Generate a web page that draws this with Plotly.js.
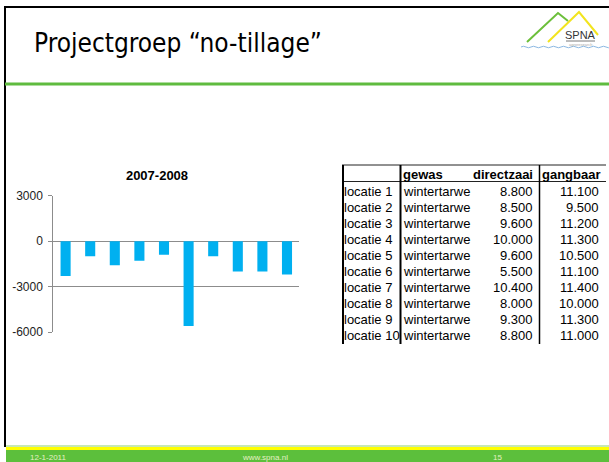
<!DOCTYPE html>
<html>
<head>
<meta charset="utf-8">
<script src="https://cdn.plot.ly/plotly-3.0.1.min.js"></script>
<style>
  html, body { margin: 0; padding: 0; background: #ffffff; }
  #chart { width: 609px; height: 462px; }
</style>
</head>
<body>
<div id="chart"></div>
<script>
// ---------- data ----------
const slideTitle = 'Projectgroep \u201Cno-tillage\u201D';
const chartTitle = '2007-2008';
const locaties = ['locatie 1', 'locatie 2', 'locatie 3', 'locatie 4', 'locatie 5',
                  'locatie 6', 'locatie 7', 'locatie 8', 'locatie 9', 'locatie 10'];
const gewas = ['wintertarwe', 'wintertarwe', 'wintertarwe', 'wintertarwe', 'wintertarwe',
               'wintertarwe', 'wintertarwe', 'wintertarwe', 'wintertarwe', 'wintertarwe'];
const directzaai = [8800, 8500, 9600, 10000, 9600, 5500, 10400, 8000, 9300, 8800];
const gangbaar = [11100, 9500, 11200, 11300, 10500, 11100, 11400, 10000, 11300, 11000];
const verschil = [-2300, -1000, -1600, -1300, -900, -5600, -1000, -2000, -2000, -2200];
const yTicks = [-6000, -3000, 0, 3000];
const kolommen = ['', 'gewas', 'directzaai', 'gangbaar'];
const footerDatum = '12-1-2011';
const footerUrl = 'www.spna.nl';
const footerPagina = '15';
const logoTekst = 'SPNA';
const logoSub = 'agroresearch';

// ---------- helpers (pixel -> paper) ----------
const W = 609, H = 462;
const px = x => x / W;
const py = y => 1 - y / H;
const SANS = 'Liberation Sans, Arial, sans-serif';
const NARROW = 'DejaVu Sans Condensed, sans-serif';

function nl(n) { // Dutch thousands separator
  const s = String(Math.round(n));
  return s.replace(/\B(?=(\d{3})+(?!\d))/g, '.');
}
function line(x0, y0, x1, y1, color, width) {
  return {type: 'line', xref: 'paper', yref: 'paper', layer: 'above',
          x0: px(x0), y0: py(y0), x1: px(x1), y1: py(y1), line: {color: color, width: width}};
}
function rect(x0, y0, x1, y1, color) {
  return {type: 'rect', xref: 'paper', yref: 'paper', layer: 'below',
          x0: px(x0), y0: py(y0), x1: px(x1), y1: py(y1), fillcolor: color, line: {width: 0}};
}
function pathShape(pts, color, width) {
  let d = 'M ' + pts.map(p => px(p[0]) + ',' + py(p[1])).join(' L ');
  return {type: 'path', xref: 'paper', yref: 'paper', path: d, line: {color: color, width: width}};
}
function ann(text, x, y, xanchor, size, color, family) {
  return {text: text, x: px(x), y: py(y), xref: 'paper', yref: 'paper', xanchor: xanchor,
          yanchor: 'middle', showarrow: false, borderpad: 0,
          font: {family: family || SANS, size: size, color: color || '#000'}};
}

// ---------- shapes ----------
const shapes = [];
// slide frame
shapes.push(line(4, 7, 609, 7, '#000', 2));
shapes.push(line(5, 6, 5, 447, '#000', 2));
// green rule under title
shapes.push(line(5, 84, 609, 84, '#5fbb3f', 3));
// footer bands
shapes.push(line(6, 446, 609, 446, '#8fd06a', 1));
shapes.push(rect(6, 447, 609, 450, '#ffff00'));
shapes.push(rect(6, 450, 609, 462, '#5cbf3c'));
// logo
shapes.push(pathShape([[527, 42], [558, 13], [568, 21]], '#6cbf3a', 2));
shapes.push(pathShape([[548, 42], [579, 12], [598, 35]], '#f2e41e', 2));
shapes.push(line(566, 41, 595, 41, '#555', 0.8));
(function () {
  let d = 'M ' + px(521) + ',' + py(47);
  for (let x = 521; x < 609; x += 10) {
    d += ' Q ' + px(x + 2.5) + ',' + py(45.5) + ' ' + px(x + 5) + ',' + py(47);
    d += ' Q ' + px(x + 7.5) + ',' + py(48.5) + ' ' + px(x + 10) + ',' + py(47);
  }
  shapes.push({type: 'path', xref: 'paper', yref: 'paper', path: d, line: {color: '#8bb8e2', width: 1}});
})();
// table lines
const tTop = 165, tHead = 181.5, tBot = 344;
shapes.push(line(342, tTop, 606, tTop, '#222', 1));
shapes.push(line(342, tHead, 606, tHead, '#222', 1));
shapes.push(line(343, tTop, 343, tBot, '#000', 2));
shapes.push(line(400.5, tTop, 400.5, tBot, '#000', 2));
shapes.push(line(539.5, tTop, 539.5, tBot, '#000', 1.5));

// ---------- annotations ----------
const annotations = [];
annotations.push(ann(slideTitle, 33, 43, 'left', 26, '#000', NARROW));
annotations.push(ann(logoTekst, 580.5, 35.5, 'center', 11, '#333'));
annotations.push(ann(logoSub, 580.5, 44, 'center', 4, '#aaa'));
annotations.push(ann(footerDatum, 48, 457, 'center', 8, '#e4efc4'));
annotations.push(ann(footerUrl, 265, 457, 'center', 8, '#e4efc4'));
annotations.push(ann(footerPagina, 497, 457, 'center', 8, '#e4efc4'));

// table header
const headY = 174;
annotations.push(ann('<b>' + kolommen[1] + '</b>', 401.5, headY, 'left', 13, '#000'));
annotations.push(ann('<b>' + kolommen[2] + '</b>', 472, headY, 'left', 13, '#000'));
annotations.push(ann('<b>' + kolommen[3] + '</b>', 541, headY, 'left', 13, '#000'));
// table rows
const rowY0 = 191.7, rowStep = 16;
for (let i = 0; i < locaties.length; i++) {
  const y = rowY0 + i * rowStep;
  annotations.push(ann(locaties[i], 343, y, 'left', 13, '#000'));
  annotations.push(ann(gewas[i], 401.5, y, 'left', 13, '#000'));
  annotations.push(ann(nl(directzaai[i]), 533.5, y, 'right', 13, '#000'));
  annotations.push(ann(nl(gangbaar[i]), 600, y, 'right', 13, '#000'));
}

// ---------- chart ----------
const traces = [{
  type: 'bar',
  x: locaties,
  y: verschil,
  marker: {color: '#00b0f0', line: {width: 0}},
  hoverinfo: 'none'
}];

const layout = {
  width: W, height: H,
  margin: {l: 0, r: 0, t: 0, b: 0},
  paper_bgcolor: '#ffffff',
  plot_bgcolor: 'rgba(0,0,0,0)',
  showlegend: false,
  bargap: 0.59,
  title: {
    text: '<b>' + chartTitle + '</b>',
    x: px(157), y: py(175), xref: 'paper', yref: 'paper',
    xanchor: 'center', yanchor: 'middle',
    font: {family: SANS, size: 13, color: '#000'}
  },
  xaxis: {
    domain: [px(53.3), px(299.3)],
    range: [-0.5, locaties.length - 0.5],
    showticklabels: false, ticks: '', showgrid: false, zeroline: false, showline: false,
    fixedrange: true
  },
  yaxis: {
    domain: [py(332), py(195.7)],
    range: [yTicks[0], yTicks[yTicks.length - 1]],
    tickmode: 'array', tickvals: yTicks, ticktext: yTicks.map(String),
    ticks: 'outside', ticklen: 4, tickcolor: '#8c8c8c', tickwidth: 1,
    ticklabelstandoff: 3,
    showgrid: true, gridcolor: '#8c8c8c', gridwidth: 1,
    zeroline: true, zerolinecolor: '#8c8c8c', zerolinewidth: 1,
    showline: true, linecolor: '#8c8c8c', linewidth: 1,
    tickfont: {family: SANS, size: 12, color: '#222'},
    fixedrange: true
  },
  shapes: shapes,
  annotations: annotations
};

Plotly.newPlot('chart', traces, layout, {displayModeBar: false, staticPlot: true});
</script>
</body>
</html>
